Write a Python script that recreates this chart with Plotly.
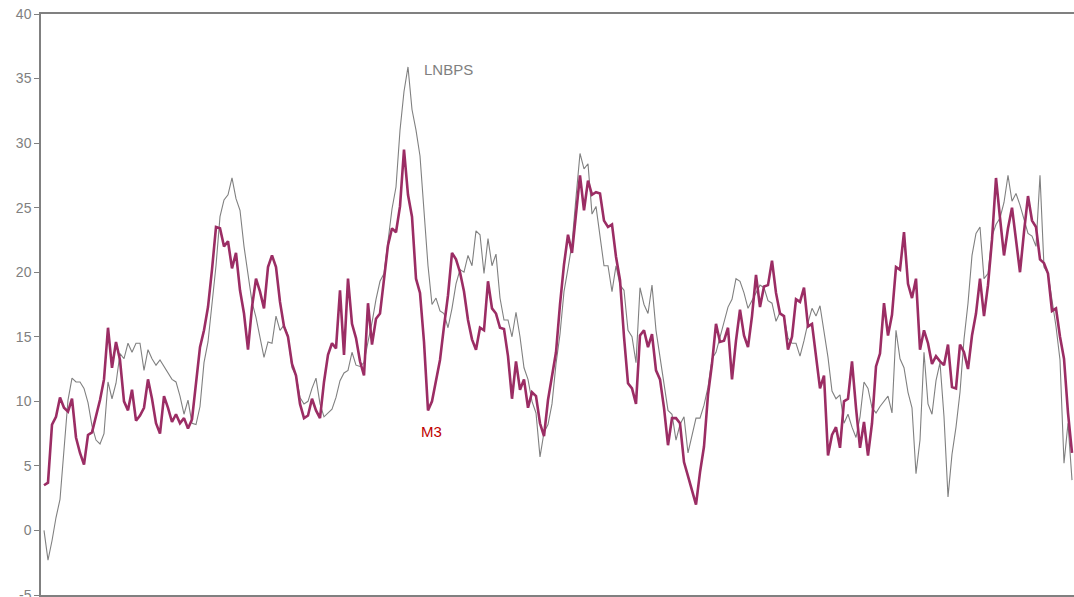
import plotly.graph_objects as go

# Monthly growth series (%), oldest first
m3 = [
    3.5, 3.7, 8.2, 8.8, 10.3, 9.5, 9.2, 10.2, 7.2, 6.0,
    5.1, 7.4, 7.6, 8.8, 10.1, 11.7, 15.7, 12.6, 14.6, 13.2,
    10.0, 9.3, 10.9, 8.5, 8.9, 9.5, 11.7, 10.2, 8.3, 7.5,
    10.4, 9.5, 8.4, 9.0, 8.3, 8.7, 7.9, 8.6, 11.5, 14.2,
    15.5, 17.3, 20.2, 23.5, 23.4, 22.0, 22.4, 20.3, 21.5, 18.6,
    16.8, 14.0, 17.3, 19.5, 18.5, 17.2, 20.4, 21.3, 20.4, 17.7,
    15.8, 15.0, 12.9, 12.0, 9.8, 8.7, 8.9, 10.2, 9.3, 8.7,
    11.5, 13.6, 14.5, 14.1, 18.6, 13.6, 19.5, 16.0, 14.9, 13.1,
    12.0, 17.6, 14.4, 16.4, 16.8, 19.4, 22.1, 23.4, 23.1, 25.1,
    29.5, 26.0, 24.3, 19.5, 18.4, 14.6, 9.3, 10.0, 11.5, 13.2,
    15.8, 18.2, 21.5, 21.0, 20.0, 18.5, 16.3, 14.8, 14.0, 15.7,
    15.5, 19.3, 17.2, 16.8, 15.7, 15.6, 13.5, 10.2, 13.1, 10.9,
    11.7, 9.5, 10.7, 10.4, 8.3, 7.3, 10.1, 11.8, 13.8, 17.5,
    20.6, 22.9, 21.5, 24.5, 27.5, 24.8, 27.1, 26.0, 26.2, 26.1,
    24.0, 23.5, 23.7, 21.2, 19.4, 15.0, 11.4, 11.0, 9.8, 15.1,
    15.5, 14.2, 15.2, 12.4, 11.7, 9.5, 6.6, 8.7, 8.7, 8.3,
    5.3, 4.2, 3.0, 2.0, 4.5, 6.5, 10.5, 12.9, 16.0, 14.6,
    14.7, 15.7, 11.7, 14.7, 17.1, 15.1, 14.2, 16.6, 19.8, 17.3,
    18.9, 19.0, 20.9, 18.4, 16.8, 16.6, 14.0, 15.0, 17.9, 17.7,
    18.8, 15.8, 16.0, 13.6, 11.0, 12.0, 5.8, 7.4, 8.0, 6.4,
    10.0, 10.2, 13.1, 9.5, 6.4, 8.4, 5.8, 8.3, 12.7, 13.7,
    17.6, 15.1, 16.7, 20.4, 20.2, 23.1, 19.1, 18.0, 19.5, 14.0,
    15.5, 14.5, 12.9, 13.5, 13.1, 12.8, 14.4, 11.1, 11.0, 14.4,
    13.8, 12.5, 15.1, 16.8, 19.5, 16.6, 19.0, 22.5, 27.3, 24.2,
    21.3, 23.4, 25.0, 22.5, 20.0, 23.1, 25.9, 24.0, 23.5, 21.0,
    20.7, 19.9, 17.0, 17.2, 15.0, 13.3, 9.1, 6.0,
]

lnbps = [
    0.0, -2.3, -0.8, 1.0, 2.4, 6.0, 10.1, 11.8, 11.5, 11.5,
    11.0, 9.9, 8.1, 7.0, 6.7, 7.5, 11.5, 10.2, 11.4, 13.7,
    13.3, 14.5, 13.8, 14.5, 14.5, 12.4, 14.0, 13.3, 12.8, 13.2,
    12.7, 12.3, 11.7, 11.5, 10.4, 9.0, 10.1, 8.3, 8.2, 9.6,
    13.0, 14.6, 17.5, 20.5, 24.3, 25.6, 26.0, 27.3, 25.7, 24.8,
    22.0, 19.7, 17.7, 16.5, 14.9, 13.4, 14.6, 14.5, 16.6, 15.5,
    15.9, 15.1, 12.6, 12.0, 10.3, 9.8, 10.0, 11.0, 11.8, 9.8,
    8.8, 9.1, 9.4, 10.3, 11.6, 12.2, 12.4, 13.8, 12.8, 12.7,
    13.0, 14.6, 16.1, 17.9, 19.3, 19.9, 22.4, 24.9, 26.6, 31.0,
    34.0, 35.9, 32.6, 31.0, 29.0, 25.0, 20.5, 17.5, 18.0, 17.0,
    16.8, 15.7, 17.2, 19.1, 20.2, 20.0, 21.3, 20.5, 23.2, 22.9,
    19.9, 22.6, 20.5, 21.4, 18.0, 16.3, 16.3, 15.0, 16.9, 15.0,
    12.6, 11.7, 10.0, 9.1, 5.7, 7.6, 8.2, 9.8, 12.9, 15.2,
    18.5, 20.3, 22.2, 25.8, 29.2, 28.0, 28.4, 24.5, 25.1, 22.8,
    20.5, 20.5, 18.5, 20.5, 19.0, 18.6, 15.5, 15.0, 13.0, 18.8,
    17.5, 16.8, 19.0, 15.5, 13.3, 11.2, 9.3, 9.0, 7.0, 8.2,
    8.8, 6.0, 7.3, 8.7, 8.7, 9.7, 11.1, 13.3, 13.8, 15.0,
    16.3, 17.3, 17.9, 19.5, 19.3, 18.4, 17.2, 17.8, 18.3, 19.0,
    18.8, 17.8, 17.6, 16.2, 16.9, 16.6, 14.9, 14.5, 14.5, 13.5,
    14.7, 16.1, 17.2, 16.6, 17.4, 15.5, 13.4, 10.8, 10.2, 10.5,
    8.3, 9.0, 8.0, 7.2, 8.8, 11.5, 11.0, 9.5, 9.1, 9.6,
    10.0, 10.4, 9.1, 15.5, 13.3, 12.6, 10.7, 9.5, 4.4, 7.0,
    13.8, 9.8, 9.0, 11.6, 13.0, 8.8, 2.6, 5.9, 8.0, 10.7,
    14.8, 17.6, 21.3, 23.0, 23.5, 19.5, 19.9, 22.8, 23.7, 24.2,
    25.4, 27.5, 25.5, 26.1, 25.2, 24.0, 23.0, 22.8, 22.0, 27.5,
    20.4, 19.9, 17.8, 15.8, 13.2, 5.2, 8.3, 3.9,
]

period = list(range(len(m3)))
y_ticks = [-5, 0, 5, 10, 15, 20, 25, 30, 35, 40]
y_tick_labels = ["-5", "0", "5", "10", "15", "20", "25", "30", "35", "40"]

GREY = "#808080"
PLUM = "#9b2d64"
FONT = "Liberation Sans, Arial, sans-serif"

fig = go.Figure()
fig.add_trace(go.Scatter(
    x=list(range(len(lnbps))), y=lnbps, mode="lines", name="LNBPS",
    line=dict(color=GREY, width=1.1),
))
fig.add_trace(go.Scatter(
    x=period, y=m3, mode="lines", name="M3",
    line=dict(color=PLUM, width=2.6),
))

fig.add_annotation(x=94.5, y=35.7, xref="x", yref="y", text="LNBPS",
                   showarrow=False, xanchor="left", yanchor="middle",
                   font=dict(family=FONT, size=15, color=GREY))
fig.add_annotation(x=93.8, y=7.7, xref="x", yref="y", text="M3",
                   showarrow=False, xanchor="left", yanchor="middle",
                   font=dict(family=FONT, size=15, color="#c00000"))

fig.update_layout(
    width=1074, height=597,
    margin=dict(l=41, r=0, t=14, b=2, autoexpand=False),
    paper_bgcolor="white", plot_bgcolor="white",
    showlegend=False,
    font=dict(family=FONT, size=14, color=GREY),
)
fig.update_xaxes(
    range=[-0.75, len(m3) - 0.5], automargin=False,
    showgrid=False, zeroline=False, showticklabels=False, ticks="",
    showline=True, linecolor=GREY, linewidth=1.5, mirror=True,
)
fig.update_yaxes(
    range=[-5, 40], tickvals=y_ticks, ticktext=y_tick_labels,
    automargin=False,
    showgrid=False, zeroline=False,
    showline=True, linecolor=GREY, linewidth=1.5,
    ticks="outside", ticklen=5, tickcolor=GREY, tickwidth=1,
    ticklabeloverflow="allow",
    tickfont=dict(family=FONT, size=14, color=GREY),
)

fig.write_html("out.html")
